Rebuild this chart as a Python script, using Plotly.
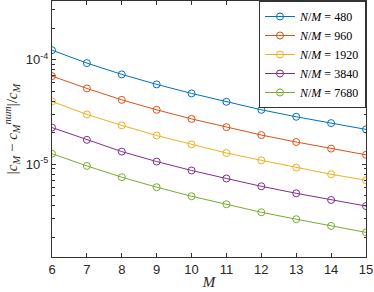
import plotly.graph_objects as go

M = [6, 7, 8, 9, 10, 11, 12, 13, 14, 15]
labels = ["480", "960", "1920", "3840", "7680"]
err_480 = [1.23e-4, 9.26e-5, 7.22e-5, 5.79e-5, 4.75e-5, 3.95e-5, 3.31e-5, 2.84e-5, 2.47e-5, 2.15e-5]
err_960 = [6.95e-5, 5.30e-5, 4.12e-5, 3.31e-5, 2.71e-5, 2.26e-5, 1.90e-5, 1.63e-5, 1.41e-5, 1.23e-5]
err_1920 = [3.98e-5, 2.99e-5, 2.35e-5, 1.88e-5, 1.55e-5, 1.28e-5, 1.09e-5, 9.28e-6, 8.01e-6, 7.03e-6]
err_3840 = [2.24e-5, 1.71e-5, 1.32e-5, 1.06e-5, 8.71e-6, 7.30e-6, 6.15e-6, 5.27e-6, 4.55e-6, 3.98e-6]
err_7680 = [1.26e-5, 9.63e-6, 7.51e-6, 6.03e-6, 4.94e-6, 4.14e-6, 3.47e-6, 2.98e-6, 2.57e-6, 2.23e-6]
series = [err_480, err_960, err_1920, err_3840, err_7680]
colors = ["#0072BD", "#D95319", "#EDB120", "#7E2F8E", "#77AC30"]

y_major = [1e-5, 1e-4]
y_major_text = ["10<sup>-5</sup>", "10<sup>-4</sup>"]
y_minor = [2e-6, 3e-6, 4e-6, 5e-6, 6e-6, 7e-6, 8e-6, 9e-6,
           2e-5, 3e-5, 4e-5, 5e-5, 6e-5, 7e-5, 8e-5, 9e-5, 2e-4, 3e-4]

fig = go.Figure()
for lab, ys, c in zip(labels, series, colors):
    fig.add_trace(go.Scatter(
        x=M, y=ys, mode="lines+markers",
        name=f"<i>N</i>/<i>M</i> = {lab}",
        line=dict(color=c, width=1),
        marker=dict(symbol="circle-open", size=7, color=c, line=dict(width=1)),
    ))

axcol = "#333333"
fig.update_layout(
    width=374, height=292,
    margin=dict(l=52, r=8, t=1, b=35, autoexpand=False),
    paper_bgcolor="white", plot_bgcolor="white",
    font=dict(family="Liberation Sans, Arial, sans-serif", size=13, color="#262626"),
    showlegend=True,
    legend=dict(
        x=1, y=1, xanchor="right", yanchor="top",
        bgcolor="white", bordercolor=axcol, borderwidth=1,
        font=dict(family="Liberation Serif, DejaVu Serif, serif", size=12, color="black"),
        tracegroupgap=0, itemwidth=30,
    ),
)
fig.update_xaxes(
    range=[6, 15], tickvals=M, ticks="inside", ticklen=4, tickcolor=axcol,
    showline=True, linecolor=axcol, linewidth=1, mirror="allticks",
    showgrid=False, zeroline=False, automargin=False,
    title=dict(text="<i>M</i>", font=dict(family="Liberation Serif, DejaVu Serif, serif", size=15), standoff=0),
)
fig.update_yaxes(
    type="log", range=[-5.887, -3.44],
    tickmode="array", tickvals=y_major, ticktext=y_major_text,
    ticks="inside", ticklen=4, tickcolor=axcol,
    minor=dict(tickmode="array", tickvals=y_minor, ticks="inside", ticklen=2.5, tickcolor=axcol),
    showline=True, linecolor=axcol, linewidth=1, mirror="allticks",
    showgrid=False, zeroline=False, automargin=False,
    title=dict(text="|<i>c<sub>M</sub></i> − <i>c<sub>M</sub><sup>num</sup></i>|/<i>c<sub>M</sub></i>",
               font=dict(family="Liberation Serif, DejaVu Serif, serif", size=15), standoff=4),
)
fig.write_html("out.html", config={"displayModeBar": False},
               post_script="document.body.style.margin='0';document.body.style.overflow='hidden';")
